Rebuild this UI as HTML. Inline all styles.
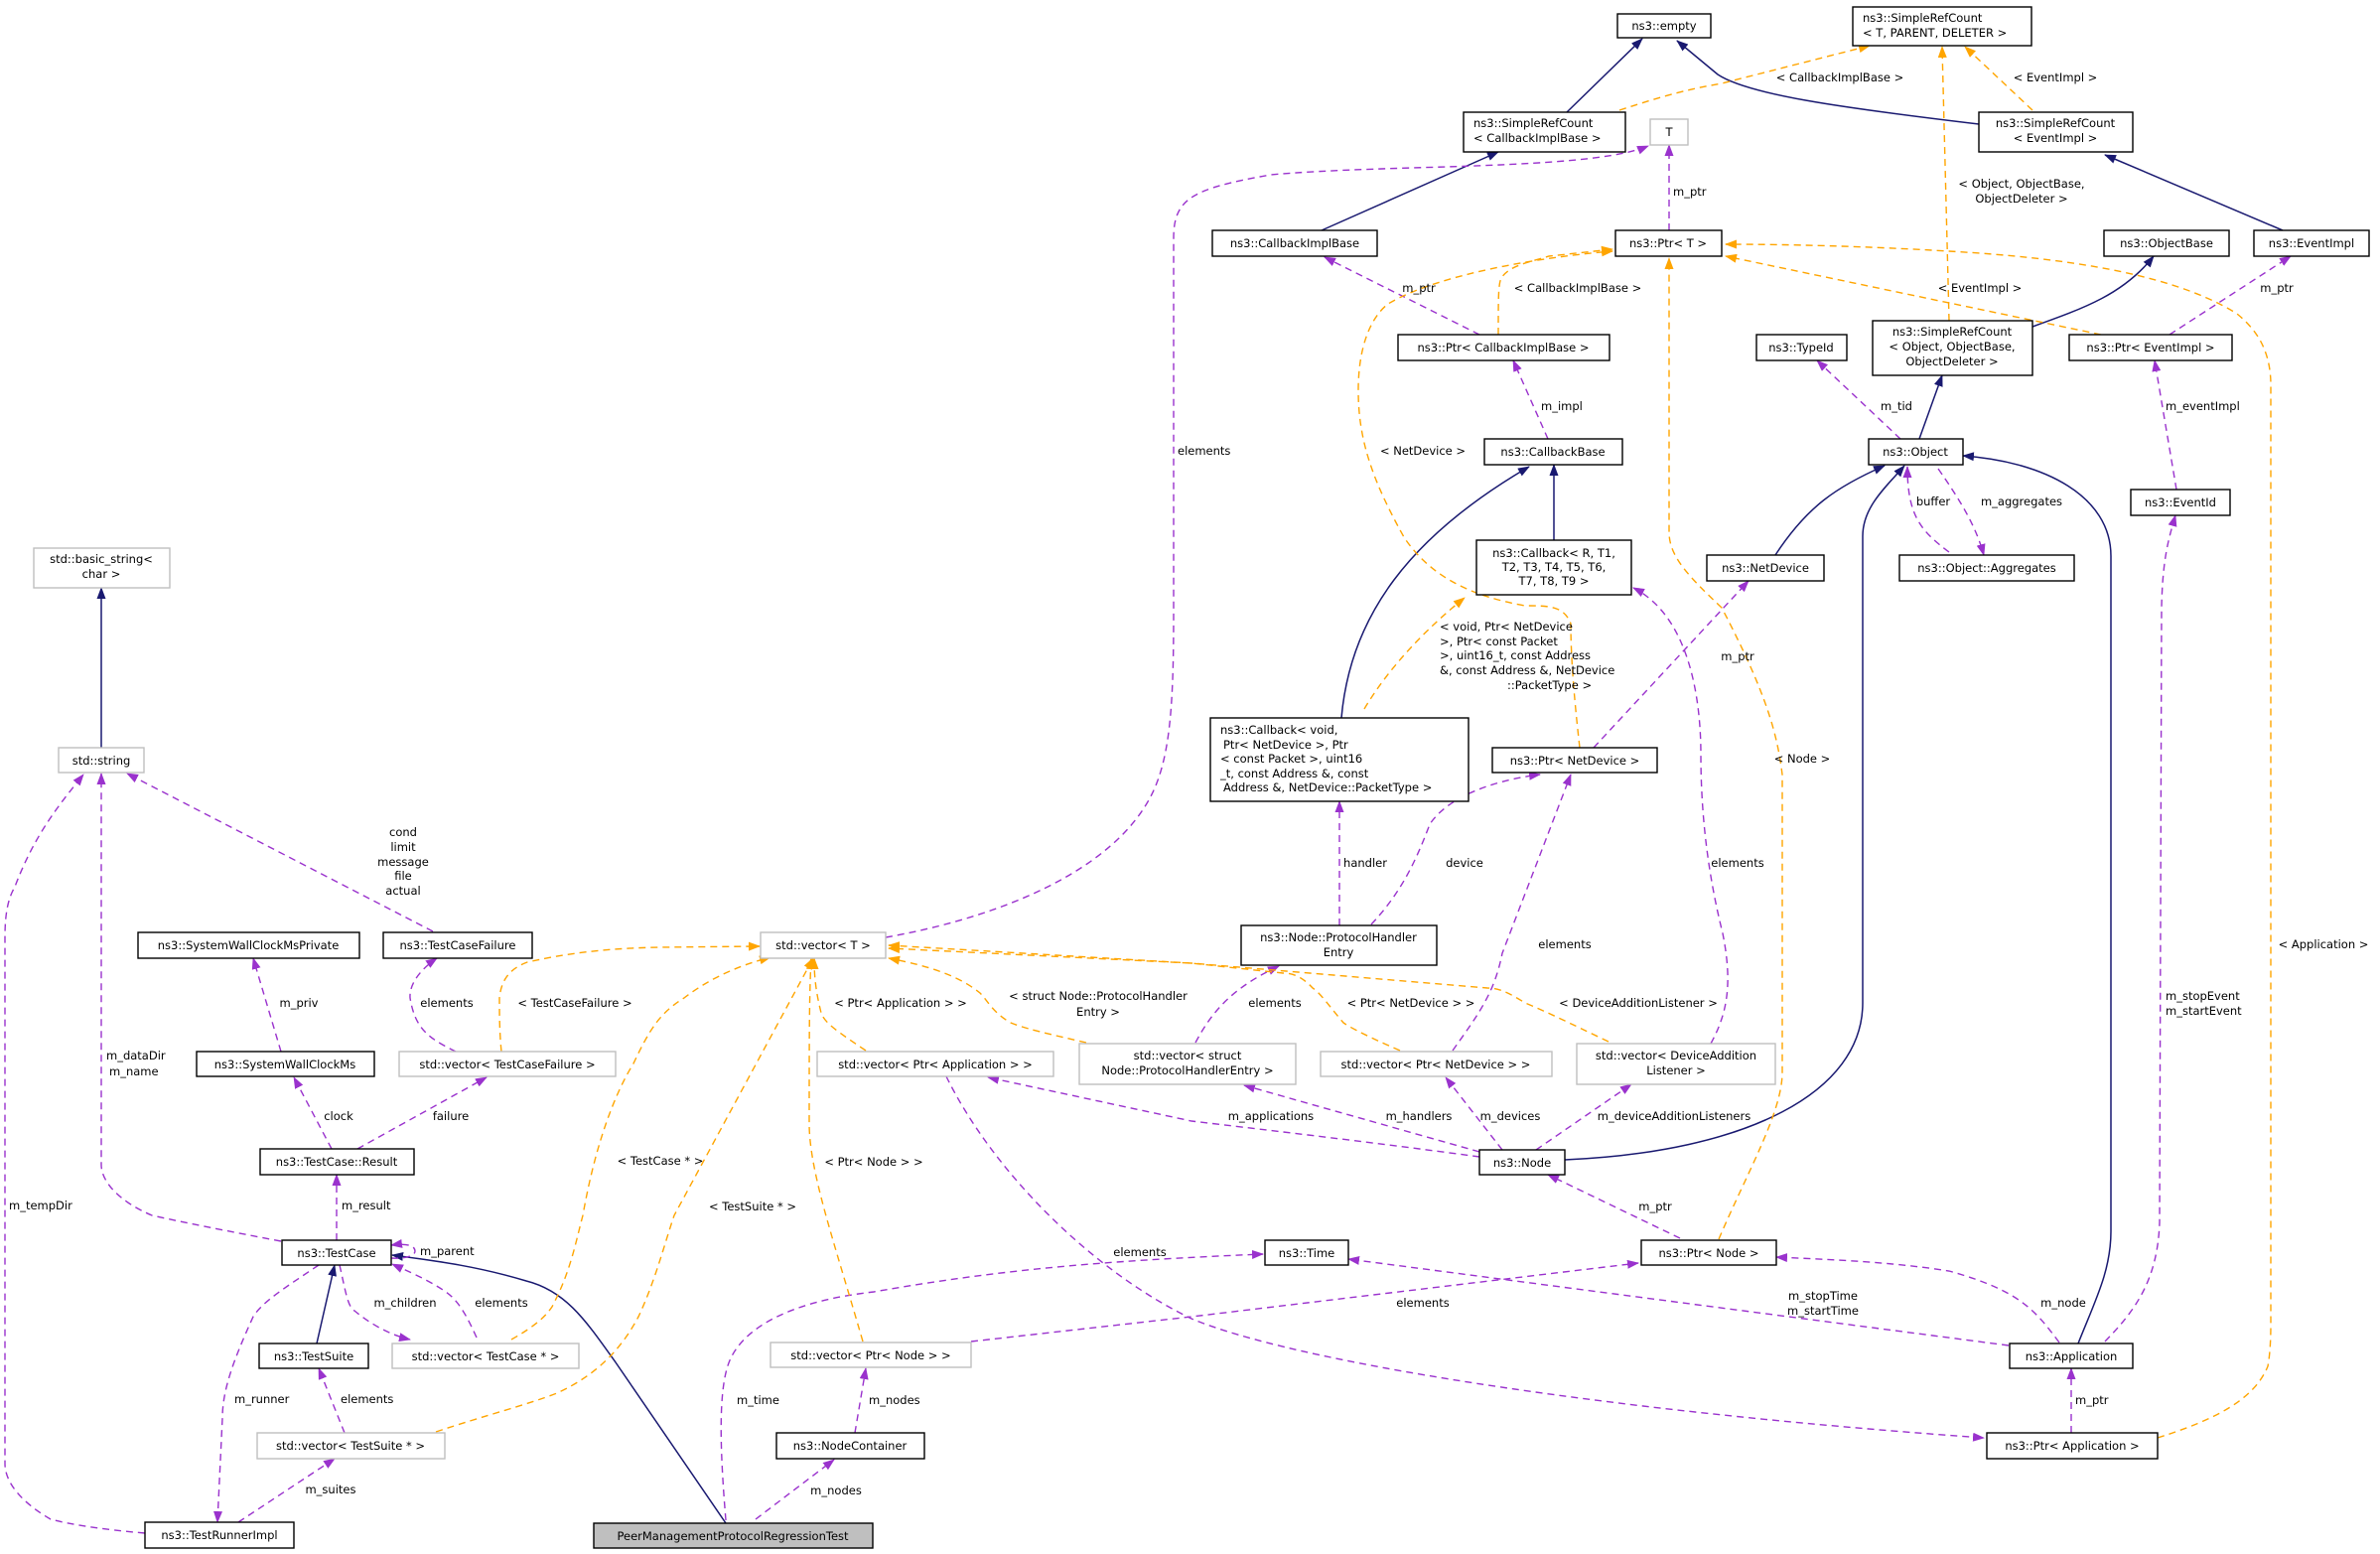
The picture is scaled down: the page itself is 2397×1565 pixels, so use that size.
<!DOCTYPE html>
<html><head><meta charset="utf-8"><style>
html,body{margin:0;padding:0;background:#fff;width:2397px;height:1565px;overflow:hidden}
svg{display:block}
text{font-family:"DejaVu Sans","Liberation Sans",sans-serif;font-size:11.5px;fill:#000}
.b{fill:#fff;stroke:#000;stroke-width:1.4}
.g{fill:#fff;stroke:#bfbfbf;stroke-width:1.4}
.nv{fill:none;stroke:#191970;stroke-width:1.5}
.p{fill:none;stroke:#9a32cd;stroke-width:1.4;stroke-dasharray:7,5}
.o{fill:none;stroke:#ffa500;stroke-width:1.4;stroke-dasharray:7,5}
.c{text-anchor:middle}
</style></head><body>
<svg width="2397" height="1565" viewBox="0 0 2397 1565" xmlns="http://www.w3.org/2000/svg">
<defs>
<marker id="mn" markerWidth="12" markerHeight="9" refX="11" refY="4.5" orient="auto" markerUnits="userSpaceOnUse"><path d="M0,0 L12,4.5 L0,9 z" fill="#191970"/></marker>
<marker id="mp" markerWidth="12" markerHeight="9" refX="11" refY="4.5" orient="auto" markerUnits="userSpaceOnUse"><path d="M0,0 L12,4.5 L0,9 z" fill="#9a32cd"/></marker>
<marker id="mo" markerWidth="12" markerHeight="9" refX="11" refY="4.5" orient="auto" markerUnits="userSpaceOnUse"><path d="M0,0 L12,4.5 L0,9 z" fill="#ffa500"/></marker>
</defs>

<!-- navy inheritance -->
<g marker-end="url(#mn)">
<path class="nv" d="M1578,113 L1654,39"/>
<path class="nv" d="M1993,125 C1850,108 1760,95 1730,75 L1689,41"/>
<path class="nv" d="M1331,232 L1509,153"/>
<path class="nv" d="M2299,232 L2120,156"/>
<path class="nv" d="M2047,329 C2100,310 2139,296 2169,258"/>
<path class="nv" d="M1933,442 L1956,378"/>
<path class="nv" d="M1788,559 C1820,510 1850,490 1898,469"/>
<path class="nv" d="M1576,1168 C1760,1160 1876,1100 1876,1010 L1876,540 C1876,510 1900,490 1918,469"/>
<path class="nv" d="M2093,1353 C2110,1310 2126,1280 2126,1240 L2126,560 C2126,500 2060,465 1977,459"/>
<path class="nv" d="M1565,544 L1565,468"/>
<path class="nv" d="M1351,723 C1360,620 1420,540 1540,470"/>
<path class="nv" d="M102,753 L102,592"/>
<path class="nv" d="M319,1353 L337,1274"/>
<path class="nv" d="M731,1534 L620,1372 C590,1330 570,1300 530,1290 C480,1275 440,1270 395,1264"/>
</g>

<!-- purple usage -->
<g marker-end="url(#mp)">
<path class="p" d="M1681,232 L1681,146"/>
<path class="p" d="M892,944 C1000,925 1120,880 1160,800 C1180,760 1182,700 1182,612 L1182,240 C1182,200 1200,190 1280,176 C1400,165 1600,172 1660,147"/>
<path class="p" d="M1490,337 L1334,259"/>
<path class="p" d="M1559,442 L1524,363"/>
<path class="p" d="M1914,442 L1830,363"/>
<path class="p" d="M2185,337 L2307,258"/>
<path class="p" d="M2192,493 L2170,363"/>
<path class="p" d="M1963,556 C1935,535 1921,520 1921,470"/>
<path class="p" d="M1952,472 C1975,505 1990,530 1998,559"/>
<path class="p" d="M1723,1051 C1740,1020 1745,990 1735,940 C1720,880 1713,820 1713,760 C1713,700 1700,620 1645,592"/>
<path class="p" d="M1605,753 L1761,585"/>
<path class="p" d="M1349,932 L1349,807"/>
<path class="p" d="M1381,931 C1410,900 1425,870 1440,830 C1460,800 1510,785 1551,780"/>
<path class="p" d="M1463,1058 C1490,1020 1505,1000 1513,960 L1582,780"/>
<path class="p" d="M1204,1050 C1220,1020 1240,995 1288,973"/>
<path class="p" d="M1490,1160 L1253,1093"/>
<path class="p" d="M1513,1158 L1456,1085"/>
<path class="p" d="M1547,1158 L1643,1092"/>
<path class="p" d="M1490,1165 C1380,1150 1250,1135 1200,1129 L995,1085"/>
<path class="p" d="M1692,1247 L1559,1183"/>
<path class="p" d="M978,1351 L1200,1326 L1650,1272"/>
<path class="p" d="M2074,1352 C2050,1320 2035,1300 1963,1280 C1900,1270 1830,1268 1789,1266"/>
<path class="p" d="M2023,1355 L1358,1268"/>
<path class="p" d="M953,1084 C1000,1180 1100,1280 1200,1328 C1300,1370 1600,1420 1998,1448"/>
<path class="p" d="M731,1531 C726,1470 722,1400 735,1370 C750,1335 800,1310 880,1301 C1000,1280 1100,1270 1272,1263"/>
<path class="p" d="M2086,1443 L2086,1378"/>
<path class="p" d="M2120,1351 C2150,1320 2173,1290 2175,1231 L2177,612 C2178,560 2185,540 2191,519"/>
<path class="p" d="M761,1530 L840,1470"/>
<path class="p" d="M861,1443 L872,1378"/>
<path class="p" d="M436,938 L128,779"/>
<path class="p" d="M283,1250 C230,1240 180,1230 153,1224 C120,1210 102,1190 102,1173 L102,779"/>
<path class="p" d="M146,1544 C100,1540 70,1535 51,1530 C25,1515 5,1495 5,1474 L5,944 C5,920 8,905 15,893 C35,840 60,810 84,780"/>
<path class="p" d="M283,1059 L255,965"/>
<path class="p" d="M459,1059 C430,1045 418,1035 413,1005 C412,990 425,975 440,965"/>
<path class="p" d="M334,1157 L296,1085"/>
<path class="p" d="M360,1157 L490,1085"/>
<path class="p" d="M339,1249 L339,1183"/>
<path class="p" d="M394,1267 C410,1268 418,1264 418,1260 C418,1254 408,1252 394,1254"/>
<path class="p" d="M342,1274 C348,1300 350,1316 357,1320 C375,1335 395,1345 413,1349"/>
<path class="p" d="M480,1347 C470,1325 462,1310 449,1301 C430,1288 410,1280 395,1273"/>
<path class="p" d="M321,1274 C290,1295 265,1310 255,1326 C235,1370 224,1400 224,1428 L219,1533"/>
<path class="p" d="M347,1443 L321,1378"/>
<path class="p" d="M240,1533 L337,1469"/>
</g>

<!-- orange templates -->
<g marker-end="url(#mo)">
<path class="o" d="M1631,111 C1680,95 1700,90 1734,84 L1883,46"/>
<path class="o" d="M2047,111 L1979,47"/>
<path class="o" d="M1963,323 L1956,47"/>
<path class="o" d="M1509,337 C1509,300 1509,286 1512,280 C1520,268 1536,265 1560,258 L1624,251"/>
<path class="o" d="M2116,337 L1738,258"/>
<path class="o" d="M1591,753 C1585,700 1582,660 1582,628 C1575,610 1560,610 1536,610 C1480,600 1440,580 1414,541 C1380,480 1368,440 1368,393 C1368,350 1380,320 1398,306 C1450,275 1560,258 1624,253"/>
<path class="o" d="M1374,714 C1400,670 1440,630 1475,602"/>
<path class="o" d="M1731,1248 C1760,1180 1795,1120 1795,1080 L1795,780 C1790,740 1780,700 1734,612 C1700,580 1681,560 1681,536 L1681,260"/>
<path class="o" d="M2173,1448 C2230,1430 2270,1410 2284,1376 C2287,1360 2287,1340 2287,1331 L2287,388 C2287,350 2270,330 2253,316 C2180,270 2050,258 1963,253 C1880,248 1800,246 1738,246"/>
<path class="o" d="M505,1059 C503,1040 503,1020 503,1005 C505,985 515,975 531,969 C580,958 620,955 663,954 L765,953"/>
<path class="o" d="M515,1349 C540,1335 550,1325 556,1316 C575,1280 580,1250 587,1224 C600,1150 620,1100 638,1071 C655,1035 665,1020 689,1005 C715,985 745,972 776,964"/>
<path class="o" d="M439,1442 C490,1425 530,1415 561,1403 C600,1385 625,1360 643,1326 C660,1290 670,1250 679,1224 L819,965"/>
<path class="o" d="M872,1058 C845,1040 830,1030 827,1020 C822,1000 820,985 820,965"/>
<path class="o" d="M869,1351 C840,1250 815,1180 815,1131 C815,1050 815,1000 817,965"/>
<path class="o" d="M1094,1050 C1050,1040 1030,1035 1018,1030 C1000,1020 995,1008 987,1000 C960,978 920,970 895,965"/>
<path class="o" d="M1410,1058 C1380,1045 1360,1035 1353,1030 C1340,1015 1330,1000 1322,995 C1310,982 1300,980 1292,980 L1200,970 L895,955"/>
<path class="o" d="M1620,1049 C1580,1030 1560,1020 1536,1010 C1520,1000 1510,995 1498,995 L1200,970 L895,952"/>
</g>

<!-- nodes -->
<g>
<rect class="b" x="1629" y="14" width="94" height="24"/><text class="c" x="1676" y="30">ns3::empty</text>
<rect class="b" x="1866" y="7" width="180" height="39"/><text x="1876" y="22">ns3::SimpleRefCount</text><text x="1876" y="37">&lt; T, PARENT, DELETER &gt;</text>
<rect class="b" x="1474" y="113" width="163" height="40"/><text x="1484" y="128">ns3::SimpleRefCount</text><text x="1484" y="143">&lt; CallbackImplBase &gt;</text>
<rect class="g" x="1662" y="120" width="38" height="26"/><text class="c" x="1681" y="137">T</text>
<rect class="b" x="1993" y="113" width="155" height="40"/><text class="c" x="2070" y="128">ns3::SimpleRefCount</text><text class="c" x="2070" y="143">&lt; EventImpl &gt;</text>
<rect class="b" x="1221" y="232" width="166" height="26"/><text class="c" x="1304" y="249">ns3::CallbackImplBase</text>
<rect class="b" x="1627" y="232" width="107" height="26"/><text class="c" x="1680" y="249">ns3::Ptr&lt; T &gt;</text>
<rect class="b" x="2119" y="232" width="126" height="26"/><text class="c" x="2182" y="249">ns3::ObjectBase</text>
<rect class="b" x="2270" y="232" width="116" height="26"/><text class="c" x="2328" y="249">ns3::EventImpl</text>
<rect class="b" x="1408" y="337" width="213" height="26"/><text class="c" x="1514" y="354">ns3::Ptr&lt; CallbackImplBase &gt;</text>
<rect class="b" x="1769" y="337" width="91" height="26"/><text class="c" x="1814" y="354">ns3::TypeId</text>
<rect class="b" x="1886" y="323" width="161" height="55"/><text class="c" x="1966" y="338">ns3::SimpleRefCount</text><text class="c" x="1966" y="353">&lt; Object, ObjectBase,</text><text class="c" x="1966" y="368">ObjectDeleter &gt;</text>
<rect class="b" x="2084" y="337" width="164" height="26"/><text class="c" x="2166" y="354">ns3::Ptr&lt; EventImpl &gt;</text>
<rect class="b" x="1495" y="442" width="139" height="26"/><text class="c" x="1564" y="459">ns3::CallbackBase</text>
<rect class="b" x="1882" y="442" width="95" height="26"/><text class="c" x="1929" y="459">ns3::Object</text>
<rect class="b" x="2146" y="493" width="100" height="26"/><text class="c" x="2196" y="510">ns3::EventId</text>
<rect class="b" x="1487" y="544" width="156" height="55"/><text class="c" x="1565" y="561">ns3::Callback&lt; R, T1,</text><text class="c" x="1565" y="575">T2, T3, T4, T5, T6,</text><text class="c" x="1565" y="589">T7, T8, T9 &gt;</text>
<rect class="b" x="1719" y="559" width="118" height="26"/><text class="c" x="1778" y="576">ns3::NetDevice</text>
<rect class="b" x="1913" y="559" width="176" height="26"/><text class="c" x="2001" y="576">ns3::Object::Aggregates</text>
<rect class="g" x="34" y="552" width="137" height="40"/><text class="c" x="102" y="567">std::basic_string&lt;</text><text class="c" x="102" y="582">char &gt;</text>
<rect class="b" x="1219" y="723" width="260" height="84"/><text x="1229" y="739">ns3::Callback&lt; void,</text><text x="1232" y="754"> Ptr&lt; NetDevice &gt;, Ptr</text><text x="1229" y="768">&lt; const Packet &gt;, uint16</text><text x="1229" y="783">_t, const Address &amp;, const</text><text x="1232" y="797"> Address &amp;, NetDevice::PacketType &gt;</text>
<rect class="b" x="1503" y="753" width="166" height="25"/><text class="c" x="1586" y="770">ns3::Ptr&lt; NetDevice &gt;</text>
<rect class="g" x="59" y="753" width="86" height="25"/><text class="c" x="102" y="770">std::string</text>
<rect class="b" x="1250" y="932" width="197" height="40"/><text class="c" x="1348" y="948">ns3::Node::ProtocolHandler</text><text class="c" x="1348" y="963">Entry</text>
<rect class="b" x="139" y="939" width="223" height="26"/><text class="c" x="250" y="956">ns3::SystemWallClockMsPrivate</text>
<rect class="b" x="386" y="939" width="150" height="26"/><text class="c" x="461" y="956">ns3::TestCaseFailure</text>
<rect class="g" x="766" y="939" width="126" height="26"/><text class="c" x="829" y="956">std::vector&lt; T &gt;</text>
<rect class="b" x="198" y="1059" width="179" height="25"/><text class="c" x="287" y="1076">ns3::SystemWallClockMs</text>
<rect class="g" x="402" y="1059" width="218" height="25"/><text class="c" x="511" y="1076">std::vector&lt; TestCaseFailure &gt;</text>
<rect class="g" x="823" y="1059" width="238" height="25"/><text class="c" x="942" y="1076">std::vector&lt; Ptr&lt; Application &gt; &gt;</text>
<rect class="g" x="1087" y="1051" width="218" height="41"/><text class="c" x="1196" y="1067">std::vector&lt; struct</text><text class="c" x="1196" y="1082">Node::ProtocolHandlerEntry &gt;</text>
<rect class="g" x="1330" y="1059" width="233" height="25"/><text class="c" x="1446" y="1076">std::vector&lt; Ptr&lt; NetDevice &gt; &gt;</text>
<rect class="g" x="1588" y="1051" width="200" height="41"/><text class="c" x="1688" y="1067">std::vector&lt; DeviceAddition</text><text class="c" x="1688" y="1082">Listener &gt;</text>
<rect class="b" x="262" y="1157" width="155" height="26"/><text class="c" x="339" y="1174">ns3::TestCase::Result</text>
<rect class="b" x="1490" y="1158" width="86" height="25"/><text class="c" x="1533" y="1175">ns3::Node</text>
<rect class="b" x="284" y="1249" width="110" height="25"/><text class="c" x="339" y="1266">ns3::TestCase</text>
<rect class="b" x="1274" y="1249" width="84" height="25"/><text class="c" x="1316" y="1266">ns3::Time</text>
<rect class="b" x="1653" y="1249" width="136" height="25"/><text class="c" x="1721" y="1266">ns3::Ptr&lt; Node &gt;</text>
<rect class="b" x="261" y="1353" width="110" height="25"/><text class="c" x="316" y="1370">ns3::TestSuite</text>
<rect class="g" x="395" y="1353" width="188" height="25"/><text class="c" x="489" y="1370">std::vector&lt; TestCase * &gt;</text>
<rect class="g" x="776" y="1352" width="202" height="25"/><text class="c" x="877" y="1369">std::vector&lt; Ptr&lt; Node &gt; &gt;</text>
<rect class="b" x="2024" y="1353" width="124" height="25"/><text class="c" x="2086" y="1370">ns3::Application</text>
<rect class="g" x="259" y="1443" width="189" height="26"/><text class="c" x="353" y="1460">std::vector&lt; TestSuite * &gt;</text>
<rect class="b" x="782" y="1443" width="149" height="26"/><text class="c" x="856" y="1460">ns3::NodeContainer</text>
<rect class="b" x="2001" y="1443" width="172" height="26"/><text class="c" x="2087" y="1460">ns3::Ptr&lt; Application &gt;</text>
<rect class="b" x="146" y="1533" width="150" height="26"/><text class="c" x="221" y="1550">ns3::TestRunnerImpl</text>
<rect x="598" y="1534" width="281" height="25" fill="#bfbfbf" stroke="#000" stroke-width="1.4"/><text class="c" x="738" y="1551">PeerManagementProtocolRegressionTest</text>
</g>

<!-- edge labels -->
<g>
<text class="c" x="1853" y="82">&lt; CallbackImplBase &gt;</text>
<text class="c" x="2070" y="82">&lt; EventImpl &gt;</text>
<text class="c" x="2036" y="189">&lt; Object, ObjectBase,</text>
<text class="c" x="2036" y="204">ObjectDeleter &gt;</text>
<text x="1685" y="197">m_ptr</text>
<text x="1186" y="458">elements</text>
<text class="c" x="1429" y="294">m_ptr</text>
<text class="c" x="1589" y="294">&lt; CallbackImplBase &gt;</text>
<text class="c" x="1994" y="294">&lt; EventImpl &gt;</text>
<text class="c" x="2293" y="294">m_ptr</text>
<text x="1552" y="413">m_impl</text>
<text class="c" x="1910" y="413">m_tid</text>
<text x="2181" y="413">m_eventImpl</text>
<text class="c" x="1433" y="458">&lt; NetDevice &gt;</text>
<text class="c" x="1947" y="509">buffer</text>
<text class="c" x="2036" y="509">m_aggregates</text>
<text x="1450" y="635">&lt; void, Ptr&lt; NetDevice</text>
<text x="1450" y="650">&gt;, Ptr&lt; const Packet</text>
<text x="1450" y="664">&gt;, uint16_t, const Address</text>
<text x="1450" y="679">&amp;, const Address &amp;, NetDevice</text>
<text x="1518" y="694">::PacketType &gt;</text>
<text class="c" x="1750" y="665">m_ptr</text>
<text class="c" x="1815" y="768">&lt; Node &gt;</text>
<text class="c" x="1750" y="873">elements</text>
<text class="c" x="1375" y="873">handler</text>
<text class="c" x="1475" y="873">device</text>
<text class="c" x="1576" y="955">elements</text>
<text class="c" x="2340" y="955">&lt; Application &gt;</text>
<text x="2181" y="1007">m_stopEvent</text>
<text x="2181" y="1022">m_startEvent</text>
<text class="c" x="406" y="842">cond</text>
<text class="c" x="406" y="857">limit</text>
<text class="c" x="406" y="872">message</text>
<text class="c" x="406" y="886">file</text>
<text class="c" x="406" y="901">actual</text>
<text class="c" x="301" y="1014">m_priv</text>
<text class="c" x="450" y="1014">elements</text>
<text class="c" x="579" y="1014">&lt; TestCaseFailure &gt;</text>
<text class="c" x="907" y="1014">&lt; Ptr&lt; Application &gt; &gt;</text>
<text class="c" x="1106" y="1007">&lt; struct Node::ProtocolHandler</text>
<text class="c" x="1106" y="1023">Entry &gt;</text>
<text class="c" x="1284" y="1014">elements</text>
<text class="c" x="1421" y="1014">&lt; Ptr&lt; NetDevice &gt; &gt;</text>
<text class="c" x="1650" y="1014">&lt; DeviceAdditionListener &gt;</text>
<text x="107" y="1067">m_dataDir</text>
<text x="110" y="1083">m_name</text>
<text class="c" x="341" y="1128">clock</text>
<text class="c" x="454" y="1128">failure</text>
<text class="c" x="1280" y="1128">m_applications</text>
<text class="c" x="1429" y="1128">m_handlers</text>
<text class="c" x="1521" y="1128">m_devices</text>
<text class="c" x="1686" y="1128">m_deviceAdditionListeners</text>
<text class="c" x="665" y="1173">&lt; TestCase * &gt;</text>
<text class="c" x="880" y="1174">&lt; Ptr&lt; Node &gt; &gt;</text>
<text x="9" y="1218">m_tempDir</text>
<text x="344" y="1218">m_result</text>
<text class="c" x="758" y="1219">&lt; TestSuite * &gt;</text>
<text class="c" x="1667" y="1219">m_ptr</text>
<text x="423" y="1264">m_parent</text>
<text class="c" x="1148" y="1265">elements</text>
<text class="c" x="1836" y="1309">m_stopTime</text>
<text class="c" x="1836" y="1324">m_startTime</text>
<text class="c" x="408" y="1316">m_children</text>
<text class="c" x="505" y="1316">elements</text>
<text class="c" x="1433" y="1316">elements</text>
<text class="c" x="2078" y="1316">m_node</text>
<text x="236" y="1413">m_runner</text>
<text x="343" y="1413">elements</text>
<text x="742" y="1414">m_time</text>
<text x="875" y="1414">m_nodes</text>
<text x="2090" y="1414">m_ptr</text>
<text class="c" x="333" y="1504">m_suites</text>
<text class="c" x="842" y="1505">m_nodes</text>
</g>
</svg>
</body></html>
